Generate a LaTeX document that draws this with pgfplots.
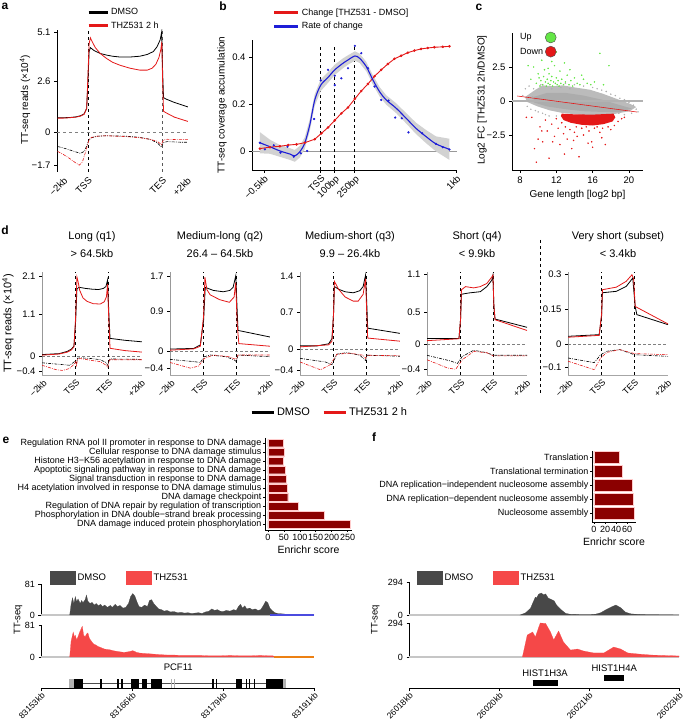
\documentclass[border=0pt]{standalone}
\usepackage{fontspec}
\setmainfont{Liberation Sans}
\usepackage{pgfplots}
\pgfplotsset{compat=1.18}
\definecolor{lred}{RGB}{228,24,24}
\definecolor{dkred}{RGB}{139,0,0}
\definecolor{lblue}{RGB}{30,30,215}
\definecolor{trgray}{RGB}{72,72,72}
\definecolor{trred}{RGB}{245,72,72}
\definecolor{upgreen}{RGB}{100,230,70}
\definecolor{cgray}{RGB}{175,175,175}
\newcommand\fs[1]{\fontsize{#1}{#1}\selectfont}
\pgfplotsset{
  base/.style={scale only axis, axis x line*=bottom, axis y line*=left,
    axis line style={-, line width=0.5pt},
    tick align=outside, major tick length=3pt,
    tick style={black, line width=0.5pt},
    tick label style={font=\fs{9.5}},
    label style={font=\fs{10}},
    legend style={draw=none, fill=none, font=\fs{9}, inner sep=0pt, outer sep=0pt, row sep=1pt, cells={anchor=west}}},
  meta/.style={base, width=100pt, height=103pt, xmin=-2.05, xmax=4.05,
    xtick={-2,0,2,4}, xticklabels={−2kb,TSS,TES,+2kb},
    xticklabel style={rotate=45, anchor=north east, inner sep=0.5pt, font=\fs{9}},
    x axis line style={gray!70}, y axis line style={gray!80},
    xtick style={draw=none},
    title style={font=\fs{11}, align=center, yshift=5pt}},
  sense/.style={line width=0.8pt},
  anti/.style={line width=0.6pt, dash pattern=on 3pt off 1.2pt on 0.8pt off 1.2pt},
  track/.style={scale only axis, axis y line*=left, axis x line=none, axis line style={-, line width=0.5pt},
    tick align=outside, major tick length=2.5pt, tick style={black, line width=0.5pt},
    tick label style={font=\fs{9}}, clip=false, scaled x ticks=false,
    legend style={draw=none, fill=none, font=\fs{9.5}, inner sep=0pt, /tikz/every even column/.append style={column sep=18pt}},
    legend image code/.code={\fill[##1] (0pt,-6.5pt) rectangle (25pt,6.5pt);}},
  gene/.style={scale only axis, axis x line*=bottom, axis y line=none, axis line style={-, line width=0.5pt},
    tick align=outside, major tick length=3pt, tick style={black, line width=0.5pt},
    xticklabel style={rotate=45, anchor=north east, font=\fs{8.5}, inner sep=0.5pt},
    scaled x ticks=false,
    ymin=0, ymax=28, clip=false, unbounded coords=jump},
  bars/.style={base, xbar, y dir=reverse, major tick length=2pt,
    yticklabel style={font=\fs{9}, inner sep=1.5pt},
    xticklabel style={font=\fs{9}, inner sep=2pt},
    label style={font=\fs{10.5}}}
}
\begin{document}
\begin{tikzpicture}
\useasboundingbox (0,0) rectangle (683pt,725pt);
% panel letters
\node[font=\bfseries\fs{12}] at (5pt,719pt) {a};
\node[font=\bfseries\fs{12}] at (223pt,719pt) {b};
\node[font=\bfseries\fs{12}] at (479pt,718pt) {c};
\node[font=\bfseries\fs{12}] at (5pt,495pt) {d};
\node[font=\bfseries\fs{12}] at (6pt,285pt) {e};
\node[font=\bfseries\fs{12}] at (374pt,288pt) {f};

%%%%%%%%%%%%%%%% a
\begin{axis}[base, at={(57pt,553pt)}, width=131pt, height=142pt,
  xmin=-2.5, xmax=8.1, ymin=-2.05, ymax=5.2,
  xtick={-2,0,6,8}, xticklabels={−2kb,TSS,TES,+2kb},
  xticklabel style={rotate=45, anchor=north east, inner sep=1pt},
  x axis line style={draw=none}, xtick style={draw=none},
  ytick={-1.7,0,2.6,5.1}, yticklabels={−1.7,0,2.6,5.1},
  ylabel={TT-seq reads (×10\textsuperscript{4})},
  ylabel style={at={(axis description cs:-0.244,0.51)}, anchor=center},
  legend image code/.code={\draw[#1] (0pt,0pt) -- (19pt,0pt);},
  legend style={at={(axis description cs:0.23,1.168)}, anchor=north west, row sep=2pt}]
\addplot[gray, dashed, line width=0.4pt, forget plot] coordinates {(-2.5,0)(8.1,0)};
\addplot[black, dashed, line width=0.6pt, forget plot] coordinates {(0,-2.05)(0,5.2)};
\addplot[gray!70!black, dashed, line width=0.6pt, forget plot] coordinates {(6,-2.05)(6,5.2)};
\addplot[black, sense, forget plot] coordinates {(-2.45,0.72)(-2,0.72)(-1.5,0.73)(-1,0.76)(-0.6,0.82)(-0.3,0.92)(-0.1,1.2)(0,2.5)(0.1,4.1)(0.2,4.3)(0.5,4.15)(1,4.0)(1.5,3.92)(2,3.86)(2.6,3.82)(3.4,3.82)(4.2,3.86)(4.8,3.95)(5.3,4.1)(5.6,4.35)(5.85,4.7)(5.97,5.1)(6.05,3.0)(6.12,1.75)(6.3,1.68)(7,1.5)(8.1,1.27)};
\addplot[lred, sense, forget plot] coordinates {(-2.45,0.7)(-2,0.7)(-1.5,0.72)(-1,0.75)(-0.6,0.8)(-0.3,0.9)(-0.1,1.2)(0,2.8)(0.1,4.5)(0.2,4.8)(0.35,4.6)(0.6,4.3)(1,4.0)(1.5,3.75)(2,3.55)(2.6,3.4)(3.4,3.25)(4.2,3.15)(4.8,3.15)(5.2,3.25)(5.5,3.45)(5.75,3.8)(5.9,4.2)(5.98,4.6)(6.05,2.5)(6.12,1.05)(6.3,0.98)(7,0.75)(8.1,0.53)};
\addplot[black, anti, forget plot] coordinates {(-2.45,-0.75)(-2,-0.82)(-1.5,-0.92)(-1,-1.02)(-0.6,-1.1)(-0.3,-1.0)(-0.15,-0.8)(0,-0.55)(0.1,-0.4)(0.3,-0.3)(0.8,-0.22)(1.5,-0.2)(3,-0.22)(4.2,-0.28)(5,-0.38)(5.6,-0.55)(5.95,-0.78)(6.1,-0.55)(6.4,-0.5)(7.5,-0.53)(8.1,-0.53)};
\addplot[lred, anti, forget plot] coordinates {(-2.45,-1.0)(-2,-1.15)(-1.5,-1.35)(-1,-1.58)(-0.7,-1.7)(-0.45,-1.55)(-0.2,-1.05)(0,-0.6)(0.1,-0.4)(0.3,-0.28)(0.8,-0.22)(1.5,-0.2)(3,-0.24)(4.2,-0.3)(5,-0.38)(5.6,-0.48)(5.95,-0.65)(6.1,-0.42)(6.4,-0.38)(7.5,-0.4)(8.1,-0.4)};
\addlegendimage{black, line width=3pt}\addlegendentry{DMSO}
\addlegendimage{lred, line width=3pt}\addlegendentry{THZ531 2 h}
\end{axis}

%%%%%%%%%%%%%%%% b
\begin{axis}[base, at={(252pt,555pt)}, width=205pt, height=130pt,
  xmin=-5.07, xmax=10.05, ymin=-0.081, ymax=0.472,
  xtick={-4.2,0,1.03,2.5,10}, xticklabels={−0.5kb,TSS,100bp,250bp,1kb},
  xticklabel style={rotate=45, anchor=north east, inner sep=1pt},
  ytick={0,0.2,0.4}, yticklabels={0,0.2,0.4},
  ylabel={TT-seq coverage accumulation},
  ylabel style={at={(axis description cs:-0.146,0.5)}, anchor=center},
  legend image code/.code={\draw[#1] (0pt,0pt) -- (24pt,0pt);},
  legend style={at={(axis description cs:0.102,1.255)}, anchor=north west, row sep=1.5pt}]
\addplot[gray!80, line width=0.6pt, forget plot] coordinates {(-5.07,0)(10.05,0)};
\addplot[black, dashed, line width=0.5pt, forget plot] coordinates {(0,-0.081)(0,0.45)};
\addplot[black, dashed, line width=0.5pt, forget plot] coordinates {(1.03,-0.081)(1.03,0.45)};
\addplot[black, dashed, line width=0.5pt, forget plot] coordinates {(2.5,-0.081)(2.5,0.45)};
\addplot[fill=gray!35, draw=none, forget plot] coordinates {(-4.49,0.080)(-3.75,0.048)(-3.01,0.025)(-2.28,0.012)(-1.91,0.004)(-1.54,0.022)(-1.18,0.058)(-0.81,0.135)(-0.44,0.242)(0,0.305)(0.54,0.336)(1.03,0.367)(1.64,0.394)(2.01,0.407)(2.52,0.424)(2.87,0.414)(3.36,0.379)(3.85,0.322)(4.34,0.272)(4.83,0.237)(5.56,0.203)(6.30,0.161)(7.03,0.120)(7.77,0.089)(8.50,0.062)(9.49,0.052)
 (9.49,-0.038)(8.50,-0.002)(7.77,0.033)(7.03,0.072)(6.30,0.117)(5.56,0.161)(4.83,0.197)(4.34,0.232)(3.85,0.282)(3.36,0.339)(2.87,0.374)(2.52,0.384)(2.01,0.367)(1.64,0.352)(1.03,0.323)(0.54,0.29)(0,0.255)(-0.44,0.192)(-0.81,0.085)(-1.18,0.008)(-1.54,-0.028)(-1.91,-0.046)(-2.28,-0.038)(-3.01,-0.025)(-3.75,-0.012)(-4.49,-0.010)} -- cycle;
\addplot[lred, line width=0.9pt, mark=*, mark size=0.8pt, forget plot] coordinates {(-4.49,0.010)(-3.75,0.016)(-3.01,0.020)(-2.40,0.025)(-1.79,0.028)(-1.18,0.035)(-0.44,0.050)(0.05,0.075)(0.54,0.100)(1.03,0.130)(1.52,0.160)(2.01,0.185)(2.52,0.222)(2.99,0.255)(3.48,0.285)(3.97,0.318)(4.46,0.345)(4.95,0.370)(5.44,0.392)(5.93,0.405)(6.42,0.418)(6.91,0.427)(7.40,0.434)(7.89,0.438)(8.38,0.441)(9.00,0.443)(9.49,0.445)};
\addplot[lblue, line width=1.1pt, smooth, forget plot] coordinates {(-4.49,0.035)(-3.75,0.018)(-3.01,0.0)(-2.28,-0.013)(-1.91,-0.021)(-1.54,-0.003)(-1.18,0.033)(-0.81,0.11)(-0.44,0.217)(0,0.28)(0.54,0.313)(1.03,0.345)(1.64,0.373)(2.01,0.387)(2.52,0.404)(2.87,0.394)(3.36,0.359)(3.85,0.302)(4.34,0.252)(4.83,0.217)(5.56,0.182)(6.30,0.139)(7.03,0.096)(7.77,0.061)(8.50,0.03)(9.49,0.007)};
\addplot[lblue, only marks, mark=*, mark size=0.9pt, forget plot] coordinates {(-4.49,0.035)(-4.12,0.007)(-3.46,0.024)(-2.97,-0.007)(-2.45,0.018)(-1.99,-0.024)(-1.47,-0.01)(-1.0,0.0)(-0.49,0.136)(0,0.3)(0.54,0.345)(1.03,0.28)(1.03,0.32)(1.52,0.309)(2.01,0.352)(2.52,0.447)(2.99,0.416)(3.48,0.352)(3.97,0.274)(4.46,0.217)(5.0,0.214)(5.49,0.142)(5.98,0.139)(6.47,0.079)(7.48,0.075)(8.50,0.03)(9.0,0.016)(9.49,0.006)};
\addlegendimage{lred, line width=3pt}\addlegendentry{Change [THZ531 - DMSO]}
\addlegendimage{lblue, line width=3pt}\addlegendentry{Rate of change}
\end{axis}

%%%%%%%%%%%%%%%% c
\begin{axis}[base, at={(512pt,555pt)}, width=131pt, height=137pt,
  xmin=7.12, xmax=21.55, ymin=-5.07, ymax=5.0,
  xtick={8,12,16,20}, xticklabels={8,12,16,20},
  ytick={-2.5,0,2.5}, yticklabels={−2.5,0,2.5},
  xlabel={Gene length [log2 bp]}, ylabel={Log2 FC [THZ531 2h/DMSO]},
  ylabel style={at={(axis description cs:-0.229,0.51)}, anchor=center},
  legend plot pos=right,
  legend image code/.code={\draw[#1] (5.5pt,0pt) circle (5.5pt);},
  legend style={at={(axis description cs:0.046,1.01)}, anchor=north west, row sep=2.5pt}]
\addplot[fill=cgray!85, draw=none, forget plot] coordinates {(8.55,0.29)(9.6,0.78)(10.5,1.15)(11.6,1.08)(12.7,1.15)(14.2,0.98)(15.7,0.83)(17.1,0.54)(18.6,0.17)(20.1,-0.2)(20.8,-0.44)(20.1,-0.74)(18.6,-0.93)(17.1,-1.05)(15.7,-1.05)(14.2,-0.98)(12.7,-0.88)(11.3,-0.69)(9.9,-0.39)(8.8,-0.07)} -- cycle;
\addplot[fill=gray!65, draw=none, forget plot] coordinates {(9.5,0.3)(11,0.6)(13,0.6)(15,0.4)(17,0.1)(19,-0.3)(20.3,-0.55)(19,-0.8)(17,-0.8)(15,-0.75)(13,-0.6)(11,-0.4)(9.5,-0.1)} -- cycle;
\addplot[cgray, only marks, mark=*, mark size=0.5pt, forget plot] coordinates {(8.3,0.4)(8.6,0.9)(8.8,-0.4)(9.0,1.1)(9.2,-0.6)(9.5,0.9)(9.7,-0.7)(10.0,-0.8)(10.3,1.2)(10.5,-0.9)(10.8,-1.0)(11.2,-1.1)(11.5,0.9)(12.0,-1.1)(13.0,1.3)(14.0,1.2)(15.0,1.1)(16.0,1.0)(17.0,0.8)(17.5,0.7)(18.0,0.5)(18.5,0.4)(19.0,0.2)(19.5,0.1)(20.0,-0.1)(20.5,-0.3)(20.8,-0.6)(20.3,-0.9)(19.5,-1.0)(18.9,-0.9)(21.0,-0.8)(13.5,0.9)(16.5,0.9)(12.5,1.0)(19.8,-0.5)(9.4,0.3)(8.9,0.0)};
\addplot[fill=lred, draw=none, forget plot] coordinates {(12.6,-0.93)(14,-0.98)(16,-1.0)(18.3,-0.93)(18.5,-1.2)(18.2,-1.5)(17.2,-1.7)(16,-1.8)(14.8,-1.75)(13.6,-1.6)(12.8,-1.4)(12.5,-1.1)} -- cycle;
\addplot[lred, only marks, mark=*, mark size=0.55pt, forget plot] coordinates {(9.3,-1.2)(9.6,-3.5)(9.8,-4.5)(10.0,-2.8)(10.2,-1.9)(10.5,-3.0)(10.8,-1.4)(11.0,-2.2)(11.2,-4.2)(11.5,-1.7)(11.8,-2.6)(12.0,-1.3)(12.2,-2.0)(12.4,-3.2)(12.6,-1.6)(12.8,-2.4)(13.0,-1.9)(13.2,-2.8)(13.5,-2.1)(13.7,-3.5)(14.0,-2.3)(14.2,-1.9)(14.5,-4.1)(14.8,-2.0)(15.0,-2.5)(15.3,-1.9)(15.6,-2.2)(15.9,-3.0)(16.2,-2.0)(16.5,-1.9)(16.8,-2.3)(17.1,-2.0)(17.4,-3.2)(17.7,-1.9)(18.0,-2.1)(18.4,-1.8)(18.8,-1.5)(19.2,-1.3)(19.5,-1.2)(8.7,-1.2)(13.9,-2.9)(15.5,-3.1)(16.0,-3.4)(12.9,-3.9)(11.6,-3.0)(10.4,-2.2)(14.3,-2.6)(17.0,-2.7)};
\addplot[upgreen, only marks, mark=*, mark size=0.55pt, forget plot] coordinates {(9.2,1.6)(9.5,2.5)(9.8,1.3)(10.0,2.0)(10.2,1.1)(10.3,1.5)(10.5,1.2)(10.6,1.8)(10.7,2.3)(10.8,1.4)(10.9,1.1)(11.0,1.6)(11.1,1.3)(11.2,2.0)(11.3,1.2)(11.4,1.5)(11.5,1.8)(11.6,1.1)(11.7,1.4)(11.8,2.6)(11.9,1.3)(12.0,1.7)(12.1,1.2)(12.2,1.5)(12.3,1.1)(12.4,2.2)(12.5,1.3)(12.6,1.6)(12.8,1.2)(13.0,1.4)(13.2,1.9)(13.4,1.2)(13.6,1.5)(13.8,1.1)(14.0,1.7)(14.3,1.3)(14.6,1.2)(15.0,1.6)(15.4,1.3)(15.8,1.2)(16.2,1.4)(16.8,3.5)(17.2,1.2)(12.0,3.6)(11.5,2.9)(10.4,3.0)(8.9,2.6)(13.5,2.3)(17.8,2.6)(12.9,2.8)(14.8,1.9)(11.1,2.4)(10.1,1.7)};
\addplot[gray!60, line width=1.5pt, forget plot] coordinates {(7.12,0)(21.55,0)};
\addplot[lred, line width=0.6pt, forget plot] coordinates {(7.7,0.37)(20.9,-0.81)};
\addlegendimage{fill=upgreen, draw=black!70, line width=0.4pt}\addlegendentry{Up}
\addlegendimage{fill=lred, draw=black!70, line width=0.4pt}\addlegendentry{Down}
\end{axis}

%%%%%%%%%%%%%%%% d
\begin{axis}[meta, at={(42pt,350pt)}, ymin=-0.5, ymax=2.2,
  ytick={-0.4,0,1.1,2.1}, yticklabels={−0.4,0,1.1,2.1},
  title={Long (q1)\\[7pt]> 64.5kb},
  ylabel={TT-seq reads (×10\textsuperscript{4})},
  ylabel style={at={(axis description cs:-0.34,0.5)}, anchor=center, font=\fs{11}}]
\addplot[gray, densely dashed, line width=0.4pt] coordinates {(-2.05,0)(4.05,0)};
\addplot[black, dashed, line width=0.5pt] coordinates {(0,-0.5)(0,2.2)};
\addplot[black, dashed, line width=0.5pt] coordinates {(2,-0.5)(2,2.2)};
\addplot[black, sense] coordinates {(-2.05,0.035)(-1,0.06)(-0.5,0.12)(-0.25,0.18)(-0.1,0.26)(0,0.9)(0.08,1.75)(0.2,1.8)(0.6,1.77)(1.0,1.75)(1.4,1.74)(1.7,1.77)(1.85,1.82)(1.95,1.99)(2.02,1.2)(2.1,0.46)(3,0.41)(4.05,0.37)};
\addplot[lred, sense] coordinates {(-2.05,0.02)(-1,0.05)(-0.5,0.1)(-0.25,0.16)(-0.1,0.24)(0,1.0)(0.08,2.07)(0.15,1.95)(0.25,1.72)(0.45,1.52)(0.7,1.43)(1.07,1.37)(1.5,1.36)(1.75,1.42)(1.88,1.55)(1.95,1.88)(2.02,1.0)(2.1,0.2)(3,0.14)(4.05,0.1)};
\addplot[black, anti] coordinates {(-2.05,-0.18)(-1,-0.22)(-0.37,-0.245)(-0.12,-0.17)(0,-0.12)(0.05,-0.2)(0.12,-0.06)(0.3,-0.05)(1,-0.07)(1.5,-0.1)(1.85,-0.17)(1.97,-0.25)(2.03,-0.14)(2.1,-0.08)(4.05,-0.09)};
\addplot[lred, anti] coordinates {(-2.05,-0.245)(-1.2,-0.36)(-0.8,-0.38)(-0.37,-0.33)(-0.1,-0.22)(0,-0.15)(0.05,-0.25)(0.12,-0.08)(0.3,-0.07)(1,-0.12)(1.5,-0.15)(1.85,-0.24)(1.97,-0.3)(2.03,-0.14)(2.1,-0.1)(4.05,-0.1)};
\end{axis}

\begin{axis}[meta, at={(170pt,350pt)}, ymin=-0.545, ymax=1.8,
  ytick={-0.4,0,0.9,1.7}, yticklabels={−0.4,0,0.9,1.7},
  title={Medium-long (q2)\\[7pt]26.4 – 64.5kb}]
\addplot[gray, densely dashed, line width=0.4pt] coordinates {(-2.05,0)(4.05,0)};
\addplot[black, dashed, line width=0.5pt] coordinates {(0,-0.545)(0,1.8)};
\addplot[black, dashed, line width=0.5pt] coordinates {(2,-0.545)(2,1.8)};
\addplot[black, sense] coordinates {(-2.05,0.045)(-0.6,0.06)(-0.2,0.14)(0,0.7)(0.1,1.45)(0.6,1.38)(1.2,1.35)(1.6,1.38)(1.8,1.45)(1.96,1.71)(2.05,0.9)(2.1,0.47)(4.05,0.32)};
\addplot[lred, sense] coordinates {(-2.05,0.02)(-0.6,0.05)(-0.2,0.11)(0,0.8)(0.08,1.68)(0.2,1.4)(0.4,1.28)(0.98,1.17)(1.57,1.11)(1.86,1.23)(1.96,1.56)(2.05,0.6)(2.15,0.17)(4.05,0.11)};
\addplot[black, anti] coordinates {(-2.05,-0.19)(-0.6,-0.24)(-0.2,-0.26)(0.04,-0.13)(0.4,-0.09)(1.37,-0.13)(1.86,-0.2)(2,-0.24)(2.1,-0.09)(4.05,-0.13)};
\addplot[lred, anti] coordinates {(-2.05,-0.26)(-0.8,-0.39)(-0.3,-0.34)(0.04,-0.17)(0.6,-0.09)(1.57,-0.13)(1.96,-0.19)(2.1,-0.09)(4.05,-0.09)};
\end{axis}

\begin{axis}[meta, at={(300pt,350pt)}, ymin=-0.5, ymax=1.48,
  ytick={-0.4,0,0.7,1.4}, yticklabels={−0.4,0,0.7,1.4},
  title={Medium-short (q3)\\[7pt]9.9 – 26.4kb},
  legend columns=2,
  legend image code/.code={\draw[#1] (0pt,0pt) -- (22pt,0pt);},
  legend style={at={(axis description cs:-0.5,-0.36)}, anchor=west, font=\fs{11}, /tikz/every even column/.append style={column sep=10pt}}]
\addplot[gray, densely dashed, line width=0.4pt, forget plot] coordinates {(-2.05,0)(4.05,0)};
\addplot[black, dashed, line width=0.5pt, forget plot] coordinates {(0,-0.5)(0,1.48)};
\addplot[black, dashed, line width=0.5pt, forget plot] coordinates {(2,-0.5)(2,1.48)};
\addplot[black, sense, forget plot] coordinates {(-2.05,0.06)(-1,0.06)(-0.3,0.1)(-0.1,0.2)(0,0.7)(0.05,1.2)(0.3,1.15)(0.7,1.1)(1.2,1.08)(1.6,1.12)(1.8,1.2)(1.95,1.42)(2.02,0.9)(2.08,0.4)(4.05,0.3)};
\addplot[lred, sense, forget plot] coordinates {(-2.05,0.04)(-0.3,0.08)(-0.1,0.15)(0,0.7)(0.05,1.3)(0.3,1.15)(0.7,1.0)(1.2,0.92)(1.5,0.92)(1.8,1.05)(1.95,1.35)(2.02,0.7)(2.08,0.21)(4.05,0.15)};
\addplot[black, anti, forget plot] coordinates {(-2.05,-0.18)(-0.5,-0.25)(-0.1,-0.3)(0.2,-0.1)(0.8,-0.07)(1.6,-0.12)(1.95,-0.22)(2.05,-0.12)(4.05,-0.14)};
\addplot[lred, anti, forget plot] coordinates {(-2.05,-0.25)(-0.8,-0.4)(-0.2,-0.3)(0.2,-0.1)(1,-0.08)(1.8,-0.12)(1.95,-0.18)(2.05,-0.12)(4.05,-0.13)};
\addlegendimage{black, line width=3pt}\addlegendentry{DMSO}
\addlegendimage{lred, line width=3pt}\addlegendentry{THZ531 2 h}
\end{axis}

\begin{axis}[meta, at={(427pt,350pt)}, ymin=-0.49, ymax=1.13,
  ytick={-0.4,0,0.5,1.1}, yticklabels={−0.4,0,0.5,1.1},
  title={Short (q4)\\[7pt]< 9.9kb}]
\addplot[gray, densely dashed, line width=0.4pt] coordinates {(-2.05,0)(4.05,0)};
\addplot[black, dashed, line width=0.5pt] coordinates {(0,-0.49)(0,1.13)};
\addplot[black, dashed, line width=0.5pt] coordinates {(2,-0.49)(2,1.13)};
\addplot[black, sense] coordinates {(-2.05,0.084)(-0.1,0.084)(0,0.4)(0.05,0.78)(0.5,0.8)(1.2,0.82)(1.6,0.9)(1.9,1.0)(1.97,1.08)(2.03,0.6)(2.1,0.39)(4.05,0.26)};
\addplot[lred, sense] coordinates {(-2.05,0.05)(-0.1,0.08)(0,0.4)(0.05,0.85)(0.3,0.9)(0.8,0.88)(1.2,0.9)(1.6,0.95)(1.9,1.05)(1.97,1.08)(2.03,0.6)(2.1,0.38)(4.05,0.21)};
\addplot[black, anti] coordinates {(-2.05,-0.18)(-0.6,-0.27)(-0.2,-0.31)(0.1,-0.2)(0.8,-0.1)(1.6,-0.14)(2,-0.18)(4.05,-0.18)};
\addplot[lred, anti] coordinates {(-2.05,-0.25)(-0.8,-0.38)(-0.3,-0.4)(0.1,-0.25)(0.8,-0.12)(1.6,-0.14)(2,-0.19)(4.05,-0.19)};
\end{axis}

\begin{axis}[meta, at={(568pt,350pt)}, ymin=-0.133, ymax=0.309,
  ytick={-0.1,0,0.15,0.3}, yticklabels={−0.1,0,0.15,0.3},
  title={Very short (subset)\\[7pt]< 3.4kb}]
\addplot[gray, densely dashed, line width=0.4pt] coordinates {(-2.05,0)(4.05,0)};
\addplot[black, dashed, line width=0.5pt] coordinates {(0,-0.133)(0,0.309)};
\addplot[black, dashed, line width=0.5pt] coordinates {(2,-0.133)(2,0.309)};
\addplot[black, sense] coordinates {(-2.05,0.033)(-0.15,0.04)(0,0.12)(0.05,0.22)(0.9,0.226)(1.5,0.247)(1.9,0.283)(2.0,0.2)(2.05,0.16)(2.15,0.126)(4.05,0.083)};
\addplot[lred, sense] coordinates {(-2.05,0.029)(-0.15,0.037)(0,0.13)(0.05,0.233)(0.9,0.244)(1.5,0.269)(1.85,0.297)(1.95,0.28)(2.05,0.161)(4.05,0.086)};
\addplot[black, anti] coordinates {(-2.05,-0.06)(-0.45,-0.08)(-0.06,-0.046)(0.33,-0.031)(1.1,-0.024)(2,-0.046)(4.05,-0.053)};
\addplot[lred, anti] coordinates {(-2.05,-0.074)(-0.45,-0.11)(-0.06,-0.06)(0.33,-0.036)(1.1,-0.024)(2,-0.041)(4.05,-0.046)};
\end{axis}
\draw[black, dashed, line width=0.6pt] (540pt,485pt) -- (540pt,330pt);

%%%%%%%%%%%%%%%% e bars
\begin{axis}[bars, at={(265pt,195pt)}, width=87pt, height=92pt,
  bar width=0.82, xmin=-9.4, xmax=264, ymin=-0.55, ymax=9.65,
  ytick={0,...,9},
  yticklabels={Regulation RNA pol II promoter in response to DNA damage,Cellular response to DNA damage stimulus,Histone H3−K56 acetylation in response to DNA damage,Apoptotic signaling pathway in response to DNA damage,Signal transduction in response to DNA damage,H4 acetylation involved in response to DNA damage stimulus,DNA damage checkpoint,Regulation of DNA repair by regulation of transcription,Phosphorylation in DNA double−strand break processing,DNA damage induced protein phosphorylation},
  xtick={0,50,100,150,200,250}, xticklabels={0,50,100,150,200,250},
  xlabel={Enrichr score}]
\addplot[fill=dkred, draw=white!80!red, line width=0.3pt] coordinates {(47,0)(50,1)(47,2)(53,3)(57,4)(59,5)(62,6)(94,7)(176,8)(258,9)};
\end{axis}

%%%%%%%%%%%%%%%% f bars
\begin{axis}[bars, at={(592pt,203pt)}, width=44pt, height=71pt,
  bar width=0.85, xmin=-3.6, xmax=76, ymin=-0.45, ymax=4.64,
  ytick={0,...,4},
  yticklabels={Translation,Translational termination,DNA replication−independent nucleosome assembly,DNA replication−dependent nucleosome assembly,Nucleosome assembly},
  xtick={0,20,40,60}, xticklabels={0,20,40,60},
  xlabel={Enrichr score}]
\addplot[fill=dkred, draw=white!80!red, line width=0.3pt] coordinates {(45,0)(51,1)(69,2)(71,3)(72,4)};
\end{axis}

%%%%%%%%%%%%%%%% e tracks
\begin{axis}[track, at={(41pt,110pt)}, width=273pt, height=31pt,
  xmin=83153, xmax=83192, ymin=0, ymax=81,
  ytick={0,81}, yticklabels={0,81},
  ylabel={TT-seq}, ylabel style={at={(axis description cs:-0.084,-0.16)}, anchor=center, font=\fs{9.5}},
  legend columns=2,
  legend style={at={(axis description cs:0.033,1.19)}, anchor=west}]
\addplot[gray!45, line width=1.5pt, forget plot] coordinates {(83153,0)(83192,0)};
\addplot[fill=trgray, draw=trgray, line width=0.2pt, forget plot] coordinates {(83157.1,0)(83157.3,28)(83157.5,45)(83157.7,30)(83157.9,48)(83158.1,35)(83158.3,42)(83158.6,30)(83158.8,38)(83159.0,32)(83159.3,40)(83159.5,52)(83159.7,36)(83160.0,30)(83160.3,33)(83160.6,26)(83160.9,30)(83161.2,24)(83161.5,28)(83161.8,22)(83162.1,26)(83162.5,20)(83162.9,25)(83163.2,20)(83163.6,28)(83163.9,22)(83164.3,25)(83164.7,18)(83165.1,20)(83165.5,30)(83165.8,48)(83166.1,56)(83166.4,50)(83166.7,35)(83167.0,22)(83167.4,20)(83167.8,26)(83168.2,22)(83168.5,38)(83168.8,40)(83169.1,30)(83169.4,24)(83169.8,16)(83170.2,14)(83170.6,10)(83171.0,12)(83171.5,8)(83172.0,9)(83172.5,6)(83173.0,7)(83173.5,5)(83174.0,6)(83174.5,4)(83175.0,5)(83175.5,6)(83176.0,4)(83176.5,8)(83177.0,10)(83177.4,16)(83177.8,12)(83178.2,14)(83178.6,10)(83179.0,9)(83179.5,12)(83180.0,10)(83180.5,14)(83180.9,12)(83181.2,22)(83181.5,28)(83181.8,18)(83182.1,24)(83182.4,16)(83182.8,18)(83183.2,14)(83183.6,16)(83184.0,12)(83184.4,14)(83184.8,26)(83185.1,36)(83185.4,32)(83185.7,18)(83186.0,12)(83186.4,6)(83186.8,4)(83187.5,3)(83188.5,1)(83190,0.5)(83192,0)} \closedcycle;
\addplot[lblue!80, line width=1.5pt, forget plot] coordinates {(83185.7,0)(83192,0)};
\addlegendimage{trgray}\addlegendentry{DMSO}
\addlegendimage{trred}\addlegendentry{THZ531}
\end{axis}

\begin{axis}[track, at={(41pt,68pt)}, width=273pt, height=32pt,
  xmin=83153, xmax=83192, ymin=0, ymax=81,
  ytick={0,81}, yticklabels={0,81}]
\addplot[gray!45, line width=1.5pt] coordinates {(83153,0)(83192,0)};
\addplot[fill=trred, draw=trred, line width=0.2pt] coordinates {(83157.1,0)(83157.3,40)(83157.6,63)(83157.8,50)(83157.9,55)(83158.1,43)(83158.3,52)(83158.5,62)(83158.7,70)(83158.9,78)(83159.0,66)(83159.1,55)(83159.3,51)(83159.5,58)(83159.7,61)(83159.9,48)(83160.0,45)(83160.2,40)(83160.4,35)(83160.6,32)(83160.9,30)(83161.1,27)(83161.4,25)(83161.8,22)(83162.1,20)(83162.5,19)(83162.9,18)(83163.3,16)(83163.6,15)(83164.0,14)(83164.3,13)(83164.7,12)(83165.0,12)(83165.4,13)(83165.7,14)(83166.1,16)(83166.4,14)(83166.6,12)(83167.1,10)(83167.8,9)(83168.6,8)(83169.3,7)(83170.0,6)(83171.0,5)(83172.0,5)(83172.9,4)(83174.0,4)(83175.7,4)(83177.0,3)(83178.6,3)(83180.0,4)(83181.4,3)(83183.0,3)(83184.3,4)(83185.5,3)(83186.1,3)(83186.6,0)} \closedcycle;
\addplot[orange!70!brown, line width=1.5pt] coordinates {(83186.3,0)(83192,0)};
\end{axis}

\begin{axis}[gene, at={(41pt,37pt)}, width=273pt, height=26pt,
  xmin=83153, xmax=83192, ymax=26,
  xtick={83153,83166,83179,83192}, xticklabels={83153kb,83166kb,83179kb,83191kb}]
\addplot[black!70, line width=0.6pt] coordinates {(83157.0,5)(83188.0,5)};
\addplot[black, line width=9pt] coordinates {(83157.0,5)(83159.0,5) (83160,nan) (83161.43,5)(83161.71,5) (83162,nan) (83163.86,5)(83164.14,5) (83164.3,nan) (83164.43,5)(83164.71,5) (83165,nan) (83165.86,5)(83167.0,5) (83167.2,nan) (83167.43,5)(83168.14,5) (83168.4,nan) (83168.71,5)(83170.29,5) (83171,nan) (83177.43,5)(83177.71,5) (83177.8,nan) (83178.0,5)(83178.14,5) (83179,nan) (83180.86,5)(83181.71,5) (83182,nan) (83182.29,5)(83182.43,5) (83182.5,nan) (83182.71,5)(83182.86,5) (83183,nan) (83183.43,5)(83183.57,5) (83184,nan) (83185.14,5)(83188.0,5)};
\addplot[gray!60, line width=9pt] coordinates {(83157.0,5)(83157.7,5) (83160,nan) (83171.57,5)(83171.71,5) (83171.8,nan) (83172.0,5)(83172.14,5) (83173,nan) (83187.6,5)(83188.0,5)};
\node[font=\fs{9.5}] at (axis cs:83172.6,21) {PCF11};
\end{axis}

%%%%%%%%%%%%%%%% f tracks
\begin{axis}[track, at={(409pt,110pt)}, width=270pt, height=33pt,
  xmin=26018, xmax=26023, ymin=0, ymax=294,
  ytick={0,294}, yticklabels={0,294},
  ylabel={TT-seq}, ylabel style={at={(axis description cs:-0.125,-0.15)}, anchor=center, font=\fs{9.5}},
  legend columns=2,
  legend style={at={(axis description cs:0.03,1.12)}, anchor=west}]
\addplot[gray!45, line width=1.5pt, forget plot] coordinates {(26018,0)(26023,0)};
\addplot[fill=trgray, draw=trgray, line width=0.2pt, forget plot] coordinates {(26020.06,0)(26020.16,20)(26020.25,60)(26020.34,160)(26020.36,150)(26020.40,185)(26020.45,196)(26020.49,180)(26020.53,188)(26020.58,150)(26020.63,140)(26020.69,125)(26020.73,90)(26020.81,50)(26020.90,15)(26020.99,6)(26021.18,3)(26021.36,3)(26021.46,8)(26021.55,20)(26021.64,45)(26021.74,70)(26021.83,89)(26021.92,65)(26022.01,25)(26022.11,10)(26022.29,4)(26022.67,2)(26023.0,1)} \closedcycle;
\addlegendimage{trgray}\addlegendentry{DMSO}
\addlegendimage{trred}\addlegendentry{THZ531}
\end{axis}

\begin{axis}[track, at={(409pt,68pt)}, width=270pt, height=34pt,
  xmin=26018, xmax=26023, ymin=0, ymax=294,
  ytick={0,294}, yticklabels={0,294}]
\addplot[gray!45, line width=1.5pt] coordinates {(26018,0)(26023,0)};
\addplot[fill=trred, draw=trred, line width=0.2pt] coordinates {(26020.10,0)(26020.19,190)(26020.29,216)(26020.34,173)(26020.43,294)(26020.53,290)(26020.62,216)(26020.68,147)(26020.77,225)(26020.86,130)(26020.99,60)(26021.12,69)(26021.23,52)(26021.42,35)(26021.61,35)(26021.79,86)(26021.92,69)(26022.05,35)(26022.24,26)(26022.48,17)(26023.0,9)} \closedcycle;
\end{axis}

\begin{axis}[gene, at={(409pt,37pt)}, width=270pt, height=26pt,
  xmin=26018, xmax=26023, ymax=26,
  xtick={26018,26019.667,26021.333,26023}, xticklabels={26018kb,26020kb,26021kb,26023kb}]
\addplot[black, line width=6pt] coordinates {(26020.29,5)(26020.75,5) (26021,nan) (26021.62,10)(26021.98,10)};
\node[font=\fs{9.5}] at (axis cs:26020.52,14.5) {HIST1H3A};
\node[font=\fs{9.5}] at (axis cs:26021.8,19.5) {HIST1H4A};
\end{axis}
\end{tikzpicture}
\end{document}
